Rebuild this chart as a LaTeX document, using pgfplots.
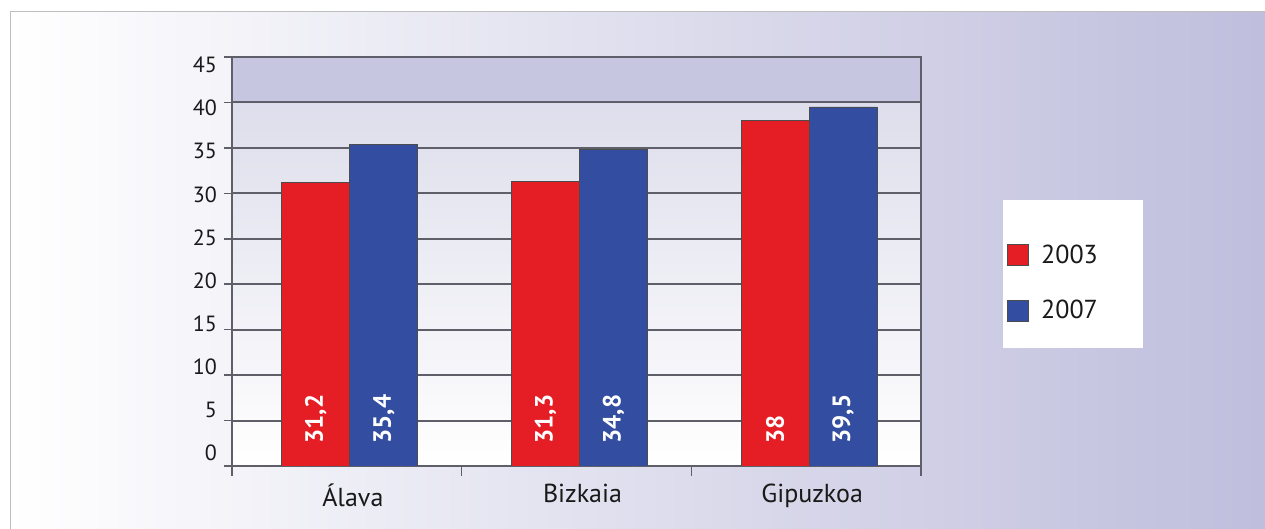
\documentclass[border=0pt]{standalone}
\usepackage{fontspec}
\setmainfont{PT Sans}
\usepackage{pgfplots}
\pgfplotsset{compat=1.18}
\definecolor{barred}{RGB}{228,30,36}
\definecolor{barblue}{RGB}{51,78,160}
\definecolor{gridc}{RGB}{95,95,105}
\definecolor{lav}{RGB}{190,189,220}
\definecolor{band}{RGB}{198,198,224}
\definecolor{plottop}{RGB}{222,222,236}
\definecolor{txt}{RGB}{25,25,25}
\pgfdeclareverticalshading{plotbg}{100bp}{color(0bp)=(white); color(25bp)=(white); color(69.4bp)=(plottop); color(69.45bp)=(band); color(100bp)=(band)}
\begin{document}
\begin{tikzpicture}
\useasboundingbox (0,0) rectangle (632.5pt,264.5pt);
\begin{scope}
\clip (0,0) rectangle (632.5pt,264.5pt);
\shade[left color=white, right color=lav] (5pt,-5pt) rectangle (640pt,258.5pt);
\draw[gray!50, line width=0.5pt] (5pt,-5pt) rectangle (640pt,258.5pt);
\end{scope}
\fill[white] (501.5pt,90.5pt) rectangle (571.5pt,164.5pt);
\begin{axis}[
  at={(116pt,31.5pt)}, anchor=south west,
  scale only axis, width=344.5pt, height=204.5pt,
  xmin=0.5, xmax=3.5, ymin=0, ymax=45,
  axis background/.style={shading=plotbg},
  bar width=34pt,
  xtick={1,2,3}, xticklabels={Álava,Bizkaia,Gipuzkoa},
  minor xtick={0.5,1.5,2.5,3.5},
  ytick={0,5,...,45},
  tick align=outside, xtick pos=bottom, ytick pos=left,
  major tick length=4pt, minor tick length=5pt,
  major x tick style={draw=none},
  tick style={gridc, line width=0.8pt},
  ymajorgrids, grid style={gridc, line width=1pt},
  axis line style={gridc, line width=1pt},
  /pgf/number format/assume math mode=true,
  yticklabel style={font=\fontsize{11}{13}\selectfont, text=txt, yshift={6.5pt-1.1667pt*\ticknum}},
  xticklabel style={font=\fontsize{13}{15}\selectfont, text=txt, xshift=3pt, yshift=-1.5pt},
  legend style={at={(1.1248,0.4474)}, anchor=west, draw=none, fill=none, inner sep=0pt, font=\fontsize{13}{15}\selectfont, text=txt, row sep=15pt, nodes={inner sep=1pt}, /tikz/every odd column/.append style={column sep=5pt}},
  legend cell align=left,
  legend image code/.code={\fill[#1] (0pt,-5.25pt) rectangle (10.5pt,5.25pt);},
  lab/.style={nodes near coords, point meta=explicit symbolic,
    every node near coord/.append style={xshift=#1, yshift=11pt, rotate=90, anchor=west, inner sep=0pt, text=white, font=\bfseries\fontsize{12.5}{14}\selectfont}},
]
\addplot[ybar, bar shift=-15.5pt, fill=barred, draw=black!70, line width=0.4pt] coordinates {(1,31.2) (2,31.3) (3,38)};
\addplot[ybar, bar shift=18.5pt, fill=barblue, draw=black!70, line width=0.4pt] coordinates {(1,35.4) (2,34.8) (3,39.5)};
\legend{2003,2007}
\addplot[ybar, bar shift=-15.5pt, draw=none, fill=none, forget plot, lab=-15.5pt]
  table[x=x, y=z, meta=lab] {
x z lab
1 0 31,2
2 0 31,3
3 0 38
};
\addplot[ybar, bar shift=18.5pt, draw=none, fill=none, forget plot, lab=18.5pt]
  table[x=x, y=z, meta=lab] {
x z lab
1 0 35,4
2 0 34,8
3 0 39,5
};
\end{axis}
\end{tikzpicture}
\end{document}
